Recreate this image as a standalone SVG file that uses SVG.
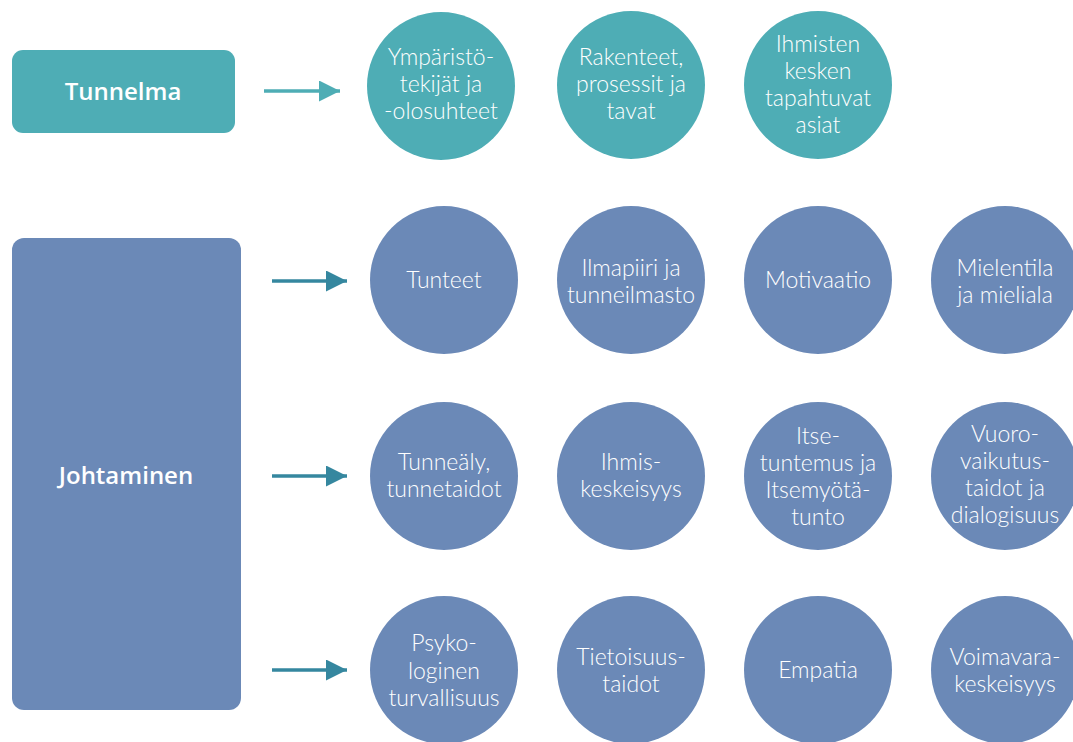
<svg xmlns="http://www.w3.org/2000/svg" width="1073" height="742" viewBox="0 0 1073 742">
<style>
.teal{fill:#4eadb5}
.blue{fill:#6b89b7}
.box{font-family:"Open Sans","Liberation Sans",sans-serif;font-weight:600;font-size:24px;fill:#fff;text-anchor:middle}
.lbl{font-family:Lato,"Liberation Sans",sans-serif;font-weight:300;font-size:23px;fill:#fff;text-anchor:middle}
.a1{stroke:#4eadb5;stroke-width:3.5;fill:none}
.a2{stroke:#35879f;stroke-width:3.5;fill:none}
</style>
<defs>
<marker id="h1" viewBox="0 0 10 10" refX="10" refY="5" markerWidth="6.5" markerHeight="6" markerUnits="strokeWidth" orient="auto"><path d="M0,0L10,5L0,10z" fill="#4eadb5"/></marker>
<marker id="h2" viewBox="0 0 10 10" refX="10" refY="5" markerWidth="6.5" markerHeight="6" markerUnits="strokeWidth" orient="auto"><path d="M0,0L10,5L0,10z" fill="#35879f"/></marker>
</defs>
<rect width="1073" height="742" fill="#fff"/>
<g id="connectors">
<line class="a1" x1="264" y1="91" x2="340" y2="91" marker-end="url(#h1)"/>
<line class="a2" x1="272" y1="281" x2="347" y2="281" marker-end="url(#h2)"/>
<line class="a2" x1="272" y1="476" x2="347" y2="476" marker-end="url(#h2)"/>
<line class="a2" x1="272" y1="670" x2="347" y2="670" marker-end="url(#h2)"/>
</g>
<g id="tunnelma"><rect class="teal" x="12" y="50" width="223" height="83" rx="11"/><text class="box" x="123" y="100">Tunnelma</text></g>
<g id="johtaminen"><rect class="blue" x="12" y="238" width="229" height="472" rx="12"/><text class="box" x="126" y="484">Johtaminen</text></g>
<g id="t1"><circle class="teal" cx="441" cy="86" r="74"/><text class="lbl" x="441" y="65">Ympäristö-</text><text class="lbl" x="441" y="92">tekijät ja</text><text class="lbl" x="441" y="119">-olosuhteet</text></g>
<g id="t2"><circle class="teal" cx="631" cy="85" r="74"/><text class="lbl" x="631" y="65">Rakenteet,</text><text class="lbl" x="631" y="92">prosessit ja</text><text class="lbl" x="631" y="119">tavat</text></g>
<g id="t3"><circle class="teal" cx="818" cy="85" r="74"/><text class="lbl" x="818" y="52">Ihmisten</text><text class="lbl" x="818" y="79">kesken</text><text class="lbl" x="818" y="106">tapahtuvat</text><text class="lbl" x="818" y="133">asiat</text></g>
<g id="r1c1"><circle class="blue" cx="444" cy="280" r="74"/><text class="lbl" x="444" y="288">Tunteet</text></g>
<g id="r1c2"><circle class="blue" cx="631" cy="280" r="74"/><text class="lbl" x="631" y="276">Ilmapiiri ja</text><text class="lbl" x="631" y="303">tunneilmasto</text></g>
<g id="r1c3"><circle class="blue" cx="818" cy="280" r="74"/><text class="lbl" x="818" y="288">Motivaatio</text></g>
<g id="r1c4"><circle class="blue" cx="1005" cy="280" r="74"/><text class="lbl" x="1005" y="276">Mielentila</text><text class="lbl" x="1005" y="303">ja mieliala</text></g>
<g id="r2c1"><circle class="blue" cx="444" cy="476" r="74"/><text class="lbl" x="444" y="470">Tunneäly,</text><text class="lbl" x="444" y="497">tunnetaidot</text></g>
<g id="r2c2"><circle class="blue" cx="631" cy="476" r="74"/><text class="lbl" x="631" y="470">Ihmis-</text><text class="lbl" x="631" y="497">keskeisyys</text></g>
<g id="r2c3"><circle class="blue" cx="818" cy="476" r="74"/><text class="lbl" x="818" y="444">Itse-</text><text class="lbl" x="818" y="471">tuntemus ja</text><text class="lbl" x="818" y="498">Itsemyötä-</text><text class="lbl" x="818" y="525">tunto</text></g>
<g id="r2c4"><circle class="blue" cx="1005" cy="476" r="74"/><text class="lbl" x="1005" y="442">Vuoro-</text><text class="lbl" x="1005" y="469">vaikutus-</text><text class="lbl" x="1005" y="496">taidot ja</text><text class="lbl" x="1005" y="523">dialogisuus</text></g>
<g id="r3c1"><circle class="blue" cx="444" cy="670" r="74"/><text class="lbl" x="444" y="651">Psyko-</text><text class="lbl" x="444" y="679">loginen</text><text class="lbl" x="444" y="706">turvallisuus</text></g>
<g id="r3c2"><circle class="blue" cx="631" cy="670" r="74"/><text class="lbl" x="631" y="665">Tietoisuus-</text><text class="lbl" x="631" y="692">taidot</text></g>
<g id="r3c3"><circle class="blue" cx="818" cy="670" r="74"/><text class="lbl" x="818" y="678">Empatia</text></g>
<g id="r3c4"><circle class="blue" cx="1005" cy="670" r="74"/><text class="lbl" x="1005" y="665">Voimavara-</text><text class="lbl" x="1005" y="692">keskeisyys</text></g>
</svg>
